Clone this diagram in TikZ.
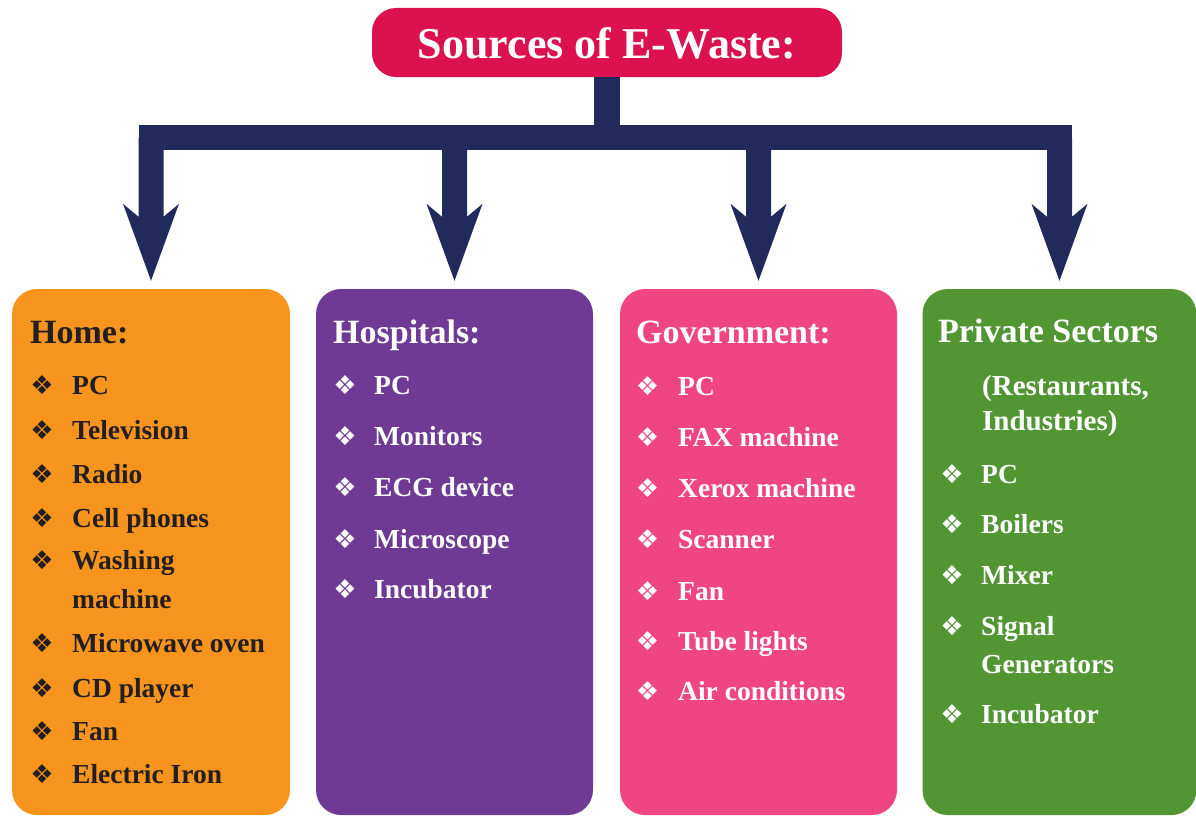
\documentclass[tikz,border=0pt]{standalone}
\usepackage{fontspec}
\setmainfont{Liberation Serif}
\newfontfamily\bulfont{DejaVu Sans}
\usetikzlibrary{calc}
\definecolor{titlered}{HTML}{DC1250}
\definecolor{navy}{HTML}{222A5C}
\definecolor{homeor}{HTML}{F7941E}
\definecolor{hosppu}{HTML}{6E3A93}
\definecolor{govpk}{HTML}{EF4681}
\definecolor{privgr}{HTML}{529634}
\definecolor{darktext}{HTML}{231F20}
\newcommand\ewarrow[1]{%
  \fill[navy] ($(#1.north |- bar)+(-12.5,0)$) -- ($(#1.north)+(-12.5,-72)$)
    -- ($(#1.north)+(-28,-85)$) -- ($(#1.north)+(0,-8)$)
    -- ($(#1.north)+(28,-85)$) -- ($(#1.north)+(12.5,-72)$)
    -- ($(#1.north |- bar)+(12.5,0)$) -- cycle;}
\begin{document}
\begin{tikzpicture}[x=1pt,y=-1pt,
  box/.style={rectangle, rounded corners=25pt, inner sep=0pt, draw=none, minimum height=526pt},
  titlebox/.style={rectangle, rounded corners=24pt, fill=titlered, minimum width=470pt, minimum height=69pt,
    inner sep=0pt, text=white, text height=33pt, text depth=0pt, font=\bfseries\fontsize{44}{48}\selectfont},
  hd/.style={anchor=base west, inner sep=0pt, font=\bfseries\fontsize{34}{38}\selectfont},
  sub/.style={anchor=base west, inner sep=0pt, font=\bfseries\fontsize{29}{32}\selectfont},
  itm/.style={anchor=base west, inner sep=0pt, font=\bfseries\fontsize{27.5}{30}\selectfont},
  bul/.style={anchor=center, inner sep=0pt, font=\bulfont\fontsize{26}{26}\selectfont},
  navyline/.style={draw=navy, line width=#1},
]
\useasboundingbox (0,0) rectangle (1196,816);
\node[titlebox] (title) at (607,42.5) {Sources of E-Waste:};
\node[box, fill=homeor, minimum width=278pt] (h) at (151,552) {};
\node[box, fill=hosppu, minimum width=277pt] (p) at (454.5,552) {};
\node[box, fill=govpk, minimum width=277pt] (g) at (758.5,552) {};
\node[box, fill=privgr, minimum width=274pt] (s) at (1059.5,552) {};
\coordinate (bar) at (0,137.5);
\draw[navyline=26pt] (title.south) -- (title.south |- bar);
\draw[navyline=25pt, line cap=rect] (h.north |- bar) -- (s.north |- bar);
\ewarrow{h}\ewarrow{p}\ewarrow{g}\ewarrow{s}
% Home
\node[hd, text=darktext] (hh) at (30,343) {Home:};
\foreach \t/\y/\b [count=\i] in {PC/394/385, Television/439/430, Radio/483/474, Cell phones/527/518,
  Washing/569/560, Microwave oven/652/643, CD player/697/688, Fan/740/731, Electric Iron/783/774}{
  \node[bul, text=darktext] (hb\i) at (42,\b) {❖};
  \node[itm, text=darktext] (ht\i) at (72,\y) {\t};
}
\node[itm, text=darktext] (hcont) at (72,608) {machine};
% Hospitals
\node[hd, text=white] (ph) at (333,343) {Hospitals:};
\foreach \t/\y/\b [count=\i] in {PC/394/385, Monitors/445/436, ECG device/496/487, Microscope/548/539, Incubator/598/589}{
  \node[bul, text=white] (pb\i) at (345,\b) {❖};
  \node[itm, text=white] (pt\i) at (374,\y) {\t};
}
% Government
\node[hd, text=white] (gh) at (636,343) {Government:};
\foreach \t/\y/\b [count=\i] in {PC/395/386, FAX machine/446/437, Xerox machine/497/488, Scanner/548/539,
  Fan/600/591, Tube lights/650/641, Air conditions/700/691}{
  \node[bul, text=white] (gb\i) at (647.5,\b) {❖};
  \node[itm, text=white] (gt\i) at (678,\y) {\t};
}
% Private sectors
\node[hd, text=white] (sh) at (938,342) {Private Sectors};
\node[sub, text=white] (ss1) at (982,395) {(Restaurants,};
\node[sub, text=white] (ss2) at (982,430) {Industries)};
\foreach \t/\y/\b [count=\i] in {PC/483/474, Boilers/533/524, Mixer/584/575, Signal/635/626, Incubator/723/714}{
  \node[bul, text=white] (sb\i) at (952,\b) {❖};
  \node[itm, text=white] (st\i) at (981,\y) {\t};
}
\node[itm, text=white] (scont) at (981,673) {Generators};
\end{tikzpicture}
\end{document}
